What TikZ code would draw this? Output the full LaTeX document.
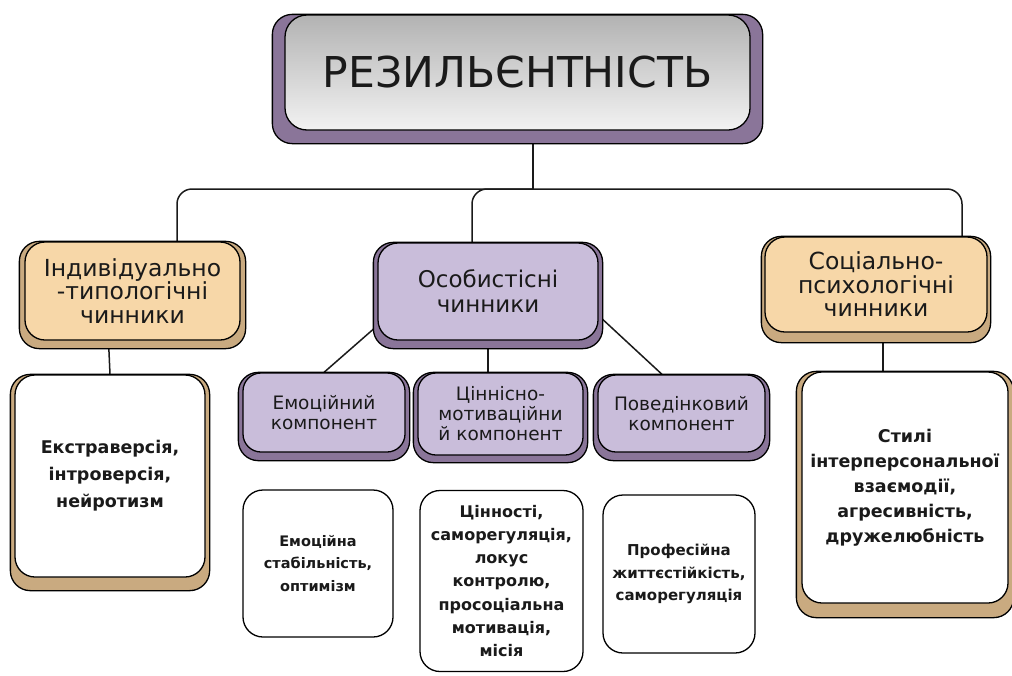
\documentclass[tikz,border=0pt]{standalone}
\usepackage{fontspec}
\setmainfont{DejaVu Sans}
\usetikzlibrary{positioning,backgrounds}
\definecolor{peach}{HTML}{F7D7A8}
\definecolor{sand}{HTML}{C9AA80}
\definecolor{lilac}{HTML}{C9BDDA}
\definecolor{plum}{HTML}{8A7599}
\definecolor{ink}{HTML}{1A1A1A}
\newcommand{\plinth}[4]{\draw[fill=#2, line width=1.3pt, rounded corners=20pt]
					([xshift=-#3pt]#1.north west) rectangle ([xshift=#3pt, yshift=-#4pt]#1.south east);}
\tikzset{
	card/.style={draw=black, line width=1.3pt, rounded corners=20pt, align=center, text=ink, inner sep=2pt},
	headbox/.style={card, fill=peach, font=\fontsize{23.5}{23.5}\selectfont},
	lilacbox/.style={card, fill=lilac, font=\fontsize{23}{25}\selectfont},
	compbox/.style={card, fill=lilac, rounded corners=18pt, font=\fontsize{18.5}{20}\selectfont},
	notebox/.style={card, fill=white, font=\bfseries\fontsize{16}{23.3}\selectfont},
	smallnote/.style={card, fill=white, font=\bfseries\fontsize{14.5}{22.5}\selectfont},
	link/.style={draw=ink, line width=1.5pt}
}

\begin{document}
\begin{tikzpicture}[x=1pt, y=-1pt]

	\useasboundingbox (0,0) rectangle (1012,675);

	% top
	\node[card, top color=black!30, bottom color=black!5, rounded corners=22pt,
		minimum width=465pt, minimum height=115pt,
		font=\fontsize{42.5}{44}\selectfont] (title) at (517.5,72.5) {РЕЗИЛЬЄНТНІСТЬ};

	% second row
	\node[headbox, minimum width=215pt, minimum height=98pt] (indiv) at (132.5,291) {Індивідуально\\-типологічні\\чинники};
	\node[lilacbox, minimum width=220pt, minimum height=97pt] (osob) at (488,291.5) {Особистісні\\чинники};
	\node[headbox, minimum width=222pt, minimum height=95pt] (social) at (876,284.5) {Соціально-\\психологічні\\чинники};

	% components
	\node[compbox, minimum width=162pt, minimum height=79pt] (emo) at (324,412.5) {Емоційний\\компонент};
	\node[compbox, minimum width=165pt, minimum height=82pt] (value) at (500.5,414) {Ціннісно-\\мотиваційни\\й компонент};
	\node[compbox, minimum width=167pt, minimum height=77pt] (behav) at (681.5,413.5) {Поведінковий\\компонент};

	% contents
	\node[notebox, font=\bfseries\fontsize{17.5}{27}\selectfont, minimum width=190pt, minimum height=202pt] (extra) at (110,476) {Екстраверсія,\\інтроверсія,\\нейротизм};
	\node[notebox, font=\bfseries\fontsize{17.5}{25}\selectfont, minimum width=206pt, minimum height=231pt] (styles) at (905,487.5) {Стилі\\інтерперсональної\\взаємодії,\\агресивність,\\дружелюбність};
	\node[smallnote, minimum width=150pt, minimum height=147pt] (emostab) at (318,563.5) {Емоційна\\стабільність,\\оптимізм};
	\node[notebox, minimum width=163pt, minimum height=181pt] (valdet) at (501.5,581) {Цінності,\\саморегуляція,\\локус\\контролю,\\просоціальна\\мотивація,\\місія};
	\node[smallnote, font=\bfseries\fontsize{15}{22.5}\selectfont, minimum width=152pt, minimum height=158pt] (prof) at (679,574) {Професійна\\життєстійкість,\\саморегуляція};

	\begin{scope}[on background layer]
		\coordinate (hub) at (533,189);
		\draw[link] ([xshift=15.5pt]title.south) -- (hub);
		\draw[link, rounded corners=15pt] (hub) -| ([xshift=44.5pt]indiv.north);
		\draw[link, rounded corners=15pt] (hub) -| ([xshift=-16pt]osob.north);
		\draw[link, rounded corners=15pt] (hub) -| ([xshift=86pt]social.north);
		\draw[link] ([xshift=-24pt]indiv.south) -- (extra.north);
		\draw[link] ([xshift=7pt]social.south) -- ([xshift=-22pt]styles.north);
		\draw[link] ([yshift=15pt]osob.south west) -- (emo.north);
		\draw[link] (osob.south) -- (osob.south |- value.north);
		\draw[link] ([yshift=25pt]osob.south east) -- ([xshift=-19.5pt]behav.north);

		\plinth{title}{plum}{12}{13}
		\plinth{indiv}{sand}{5}{8}
		\plinth{osob}{plum}{4}{8}
		\plinth{social}{sand}{3}{10}
		\plinth{emo}{plum}{4}{8}
		\plinth{value}{plum}{4}{7}
		\plinth{behav}{plum}{4}{8}
		\plinth{extra}{sand}{4}{13}
		\plinth{styles}{sand}{5}{14}
	\end{scope}

\end{tikzpicture}
\end{document}
